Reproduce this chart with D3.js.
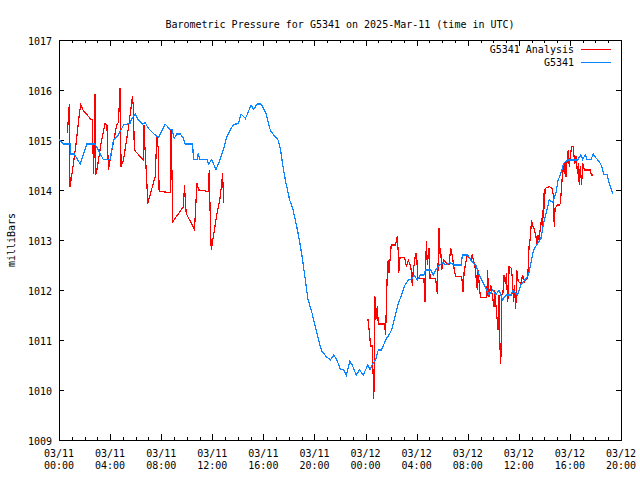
<!DOCTYPE html>
<html>
<head>
<meta charset="utf-8">
<script src="https://cdn.jsdelivr.net/npm/d3@7"></script>
<style>
  body { margin: 0; background: #fff; }
  svg text { font-family: 'DejaVu Sans Mono', 'Liberation Mono', monospace; font-size: 10px; fill: #000; }
</style>
</head>
<body>
<div id="chart"></div>
<script>
// hours since 03/11 00:00 UTC
const stationHours = [0.0,0.34,0.86,0.94,1.2,1.65,2.17,2.82,3.47,4.0,4.26,4.65,5.05,5.57,5.65,5.96,6.2,6.54,6.75,7.0,7.4,7.79,8.31,8.7,8.85,9.02,9.23,9.49,9.75,9.88,10.46,10.53,10.8,10.9,11.05,11.58,11.71,11.95,12.1,12.29,12.6,12.89,13.15,13.41,13.67,14.06,14.25,14.59,14.75,15.03,15.24,15.5,15.82,16.21,16.55,16.81,17.15,17.33,17.46,17.6,17.8,18.06,18.33,18.59,18.82,19.03,19.29,19.48,19.82,20.13,20.39,20.6,20.92,21.25,21.52,21.75,22.04,22.3,22.5,22.77,22.95,23.27,23.53,23.82,24.0,24.18,24.35,24.5,24.78,25.0,25.25,25.57,25.9,26.04,26.3,26.56,26.82,27.09,27.35,27.66,27.8,28.05,28.3,28.57,28.7,29.1,29.3,29.5,29.8,30.05,30.3,30.6,30.93,31.5,31.58,32.0,32.24,32.63,32.9,33.3,33.67,33.95,34.2,34.45,34.72,35.0,35.4,35.55,35.9,36.16,36.47,36.76,37.0,37.15,37.47,37.73,37.99,38.2,38.38,38.65,38.9,39.08,39.29,39.5,39.8,40.08,40.6,40.86,41.0,41.2,41.35,41.65,41.83,42.0,42.3,42.5,42.64,42.9,43.08,43.35];
const stationPressure = [1015.01,1014.92,1014.92,1014.72,1014.72,1014.52,1014.92,1014.92,1014.61,1014.61,1015.0,1015.1,1015.3,1015.33,1015.41,1015.52,1015.41,1015.32,1015.35,1015.23,1015.13,1015.05,1015.32,1015.21,1015.21,1015.03,1015.12,1015.12,1015.03,1014.92,1014.92,1014.61,1014.61,1014.72,1014.61,1014.61,1014.52,1014.6,1014.52,1014.41,1014.6,1014.83,1015.07,1015.2,1015.31,1015.33,1015.52,1015.43,1015.52,1015.7,1015.61,1015.72,1015.72,1015.53,1015.19,1015.1,1015.0,1014.83,1014.6,1014.37,1014.1,1013.8,1013.6,1013.3,1013.0,1012.67,1012.2,1011.83,1011.53,1011.2,1010.93,1010.77,1010.67,1010.6,1010.7,1010.6,1010.41,1010.4,1010.3,1010.57,1010.5,1010.3,1010.4,1010.3,1010.4,1010.5,1010.4,1010.5,1010.6,1010.8,1010.8,1011.0,1011.13,1011.2,1011.47,1011.73,1011.9,1012.1,1012.2,1012.23,1012.3,1012.2,1012.3,1012.3,1012.4,1012.4,1012.3,1012.4,1012.5,1012.55,1012.5,1012.55,1012.5,1012.5,1012.7,1012.7,1012.6,1012.5,1012.3,1012.1,1011.9,1012.0,1011.9,1012.0,1011.8,1011.9,1011.9,1012.0,1011.9,1012.1,1012.2,1012.3,1012.6,1012.8,1012.93,1013.03,1013.4,1013.6,1013.8,1013.75,1013.93,1014.2,1014.33,1014.53,1014.6,1014.6,1014.6,1014.7,1014.61,1014.7,1014.61,1014.61,1014.72,1014.65,1014.57,1014.47,1014.31,1014.31,1014.13,1013.93];

// analysis series, null = gap
const analysisHours = [0.65,0.68,0.73,0.81,0.86,0.95,1.31,1.6,1.7,1.9,2.51,2.62,2.7,2.76,2.82,2.88,3.0,3.3,3.6,3.75,3.87,4.0,4.52,4.65,4.78,4.86,5.05,5.45,5.75,5.82,5.9,6.6,6.65,6.72,6.88,6.95,7.53,7.66,7.77,7.84,8.7,8.78,8.85,8.92,9.75,9.82,9.96,10.61,10.8,10.95,11.71,11.76,11.84,11.92,12.37,12.63,12.81,12.89,
  18.0,
  24.13,24.2,24.4,24.52,24.58,24.62,24.65,24.73,24.8,24.92,25.0,25.49,25.57,25.65,25.72,25.78,25.84,25.9,26.01,26.35,26.48,26.55,26.6,26.7,27.05,27.2,27.35,27.53,27.6,27.66,27.72,27.92,28.0,28.08,28.57,28.65,28.76,28.84,28.97,29.05,29.49,29.62,29.75,29.82,29.88,29.96,30.1,30.53,30.67,30.8,30.93,31.05,31.53,31.63,31.72,31.97,32.24,32.35,32.55,32.6,32.75,32.82,32.9,33.0,33.5,33.54,33.67,33.8,34.06,34.12,34.27,34.38,34.45,34.5,34.59,34.67,34.75,34.85,34.95,35.03,35.12,35.18,35.24,35.42,35.5,35.58,35.65,35.76,35.84,35.95,36.2,36.28,36.45,36.63,36.7,36.81,36.88,37.0,37.08,37.15,37.33,37.41,37.5,37.58,37.67,37.78,37.86,37.94,38.0,38.06,38.38,38.6,38.66,38.72,38.77,38.84,39.0,39.16,39.25,39.35,39.43,39.5,39.56,39.63,39.69,39.76,39.87,39.95,40.03,40.13,40.26,40.3,40.39,40.47,40.6,40.66,40.73,40.81,40.92,41.0,41.13,41.6,41.68,41.8];
const analysisPressure = [1015.15,1015.25,1015.4,1015.72,1014.07,1014.2,1014.87,1015.53,1015.7,1015.59,1015.41,1015.4,1014.33,1014.9,1015.92,1014.3,1014.45,1014.95,1015.33,1015.3,1014.4,1014.6,1015.3,1015.35,1016.03,1014.47,1014.6,1015.27,1015.87,1015.67,1014.8,1014.6,1015.3,1014.9,1014.13,1013.73,1014.27,1015.07,1014.83,1013.97,1013.95,1015.21,1014.27,1013.37,1013.67,1014.1,1013.53,1013.21,1014.13,1014.0,1013.97,1014.4,1013.48,1012.8,1013.53,1013.87,1014.33,1013.73,
  null,
  1011.4,1011.4,1010.88,1010.88,1010.4,1010.13,1009.83,1011.87,1011.4,1011.67,1011.32,1011.32,1011.1,1011.9,1012.47,1012.6,1012.35,1012.55,1012.9,1012.9,1013.07,1012.8,1012.35,1012.65,1012.65,1012.47,1012.6,1012.47,1012.35,1012.08,1012.35,1012.73,1012.73,1012.23,1012.23,1011.77,1012.97,1012.5,1012.83,1012.23,1012.23,1011.93,1013.23,1012.73,1012.83,1012.4,1012.6,1012.5,1012.83,1012.67,1012.43,1012.27,1012.27,1011.97,1012.37,1012.7,1012.6,1012.7,1012.5,1012.4,1012.0,1012.4,1012.1,1011.85,1011.85,1012.4,1011.87,1012.1,1011.67,1012.0,1011.5,1011.2,1011.9,1010.97,1010.53,1011.9,1011.93,1012.3,1012.13,1012.33,1011.77,1011.9,1012.47,1012.43,1012.2,1011.77,1012.1,1011.63,1012.4,1012.17,1012.13,1012.3,1012.17,1012.23,1012.27,1012.9,1013.0,1013.4,1013.27,1013.27,1013.1,1012.93,1013.1,1013.0,1013.2,1013.43,1013.2,1013.93,1013.63,1014.03,1014.07,1014.03,1013.93,1013.93,1013.27,1013.63,1013.7,1013.7,1013.73,1014.07,1014.37,1014.47,1014.33,1014.57,1014.27,1014.53,1014.8,1014.47,1014.67,1014.87,1014.87,1014.73,1014.53,1014.67,1014.33,1014.53,1014.1,1014.47,1014.1,1014.53,1014.4,1014.4,1014.3,1014.3];

const xTickHours = [0,4,8,12,16,20,24,28,32,36,40,44];
const xTickDates = ['03/11','03/11','03/11','03/11','03/11','03/11','03/12','03/12','03/12','03/12','03/12','03/12'];
const xTickTimes = ['00:00','04:00','08:00','12:00','16:00','20:00','00:00','04:00','08:00','12:00','16:00','20:00'];
const yTicks = [1009,1010,1011,1012,1013,1014,1015,1016,1017];

const W = 640, H = 480;
const plotL = 59, plotR = 621, plotT = 40, plotB = 440;
const RED = '#ff0000', BLUE = '#0a84ff';

const svg = d3.select('#chart').append('svg')
  .attr('width', W).attr('height', H);

const x = d3.scaleLinear().domain([0, 44]).range([plotL, plotR]);
const y = d3.scaleLinear().domain([1009, 1017]).range([plotB, plotT]);

// title
svg.append('text').attr('x', (plotL + plotR) / 2).attr('y', 28)
  .attr('text-anchor', 'middle')
  .text('Barometric Pressure for G5341 on 2025-Mar-11 (time in UTC)');

// y label
svg.append('text')
  .attr('transform', `translate(15,${(plotT + plotB) / 2}) rotate(-90)`)
  .attr('text-anchor', 'middle')
  .text('milliBars');

const axes = svg.append('g').attr('stroke', '#000').attr('shape-rendering', 'crispEdges');

// minor x ticks every hour, major every 4 h (bottom and mirrored top)
d3.range(0, 45).forEach(h => {
  const len = h % 4 === 0 ? 6 : 3;
  const px = Math.round(x(h)) + 0.5;
  axes.append('line').attr('x1', px).attr('x2', px).attr('y1', plotB).attr('y2', plotB - len);
  axes.append('line').attr('x1', px).attr('x2', px).attr('y1', plotT).attr('y2', plotT + len);
});

yTicks.forEach(v => {
  const py = Math.round(y(v)) + 0.5;
  axes.append('line').attr('x1', plotL).attr('x2', plotL + 5).attr('y1', py).attr('y2', py);
  axes.append('line').attr('x1', plotR).attr('x2', plotR - 5).attr('y1', py).attr('y2', py);
  svg.append('text').attr('x', 52).attr('y', py + 4)
    .attr('text-anchor', 'end').text(v);
});

xTickHours.forEach((h, i) => {
  const t = svg.append('text').attr('text-anchor', 'middle');
  t.append('tspan').attr('x', x(h)).attr('y', 457).text(xTickDates[i]);
  t.append('tspan').attr('x', x(h)).attr('y', 469).text(xTickTimes[i]);
});

// data lines (aliased like the original bitmap output)
const line = d3.line()
  .defined(d => d[1] !== null)
  .x(d => x(d[0])).y(d => y(d[1]));

const stationData = stationHours.map((h, i) => [h, stationPressure[i]]);
const analysisData = analysisHours.map((h, i) => [h, analysisPressure[i]]);

svg.append('path').datum(analysisData)
  .attr('fill', 'none').attr('stroke', RED).attr('stroke-width', 1.2)
  .attr('shape-rendering', 'crispEdges')
  .attr('d', line);

svg.append('path').datum(stationData)
  .attr('fill', 'none').attr('stroke', BLUE).attr('stroke-width', 1.2)
  .attr('shape-rendering', 'crispEdges')
  .attr('d', line);

// frame
axes.append('rect')
  .attr('x', plotL + 0.5).attr('y', plotT + 0.5)
  .attr('width', plotR - plotL).attr('height', plotB - plotT)
  .attr('fill', 'none');

// legend
const legend = [['G5341 Analysis', RED, 49], ['G5341', BLUE, 62]];
legend.forEach(([name, col, ly]) => {
  svg.append('text').attr('x', 574).attr('y', ly + 4)
    .attr('text-anchor', 'end').text(name);
  svg.append('line').attr('x1', 581).attr('x2', 611)
    .attr('y1', ly + 0.5).attr('y2', ly + 0.5)
    .attr('stroke', col).attr('shape-rendering', 'crispEdges');
});
</script>
</body>
</html>
